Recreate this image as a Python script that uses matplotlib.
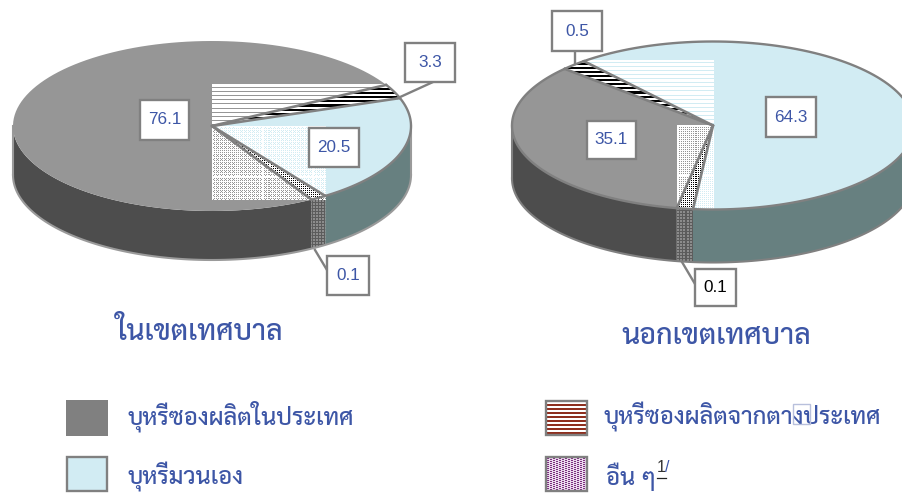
import numpy as np
import matplotlib
matplotlib.use("Agg")
import matplotlib.pyplot as plt
from matplotlib.patches import Polygon, Rectangle

# --- Data ---
left_labels = ["76.1", "3.3", "20.5", "0.1"]
left_shares = [75.3, 2.7, 20.7, 1.3]       # share of the rim as drawn, small slices are widened
right_labels = ["64.3", "35.1", "0.5", "0.1"]
right_shares = [62.7, 1.3, 33.9, 2.1]

left_title = "ในเขตเทศบาล"
right_title = "นอกเขตเทศบาล"
legend_text = ["บุหรีซองผลิตในประเทศ", "บุหรีมวนเอง", "บุหรีซองผลิตจากตางประเทศ", "อืน ๆ"]

THAI = ["Sarabun", "Noto Sans Thai", "DejaVu Sans"]
LATIN = ["Liberation Sans", "DejaVu Sans"]
BLUE_TEXT = "#3d56a6"
EDGE = "#808080"
TOP = {"gray": "#969696", "blue": "#d2ecf3"}
SIDE = {"gray": "#4d4d4d", "blue": "#678080", "stripe": "#4d4d4d", "dots": "#7a7a7a"}

fig = plt.figure(figsize=(9.03, 4.93), dpi=100)
ax = fig.add_axes([0, 0, 1, 1])
ax.set_axis_off()


def texture(x0, x1, y0, y1, kind, color="#000000", under="#ffffff", clip=None, z=3):
    """Bitmap fill of the old office chart, one texel per pixel."""
    w, h = int(round(x1 - x0)), int(round(y1 - y0))
    yy, xx = np.mgrid[0:h, 0:w]
    xx = xx + int(x0)
    yy = yy + int(y0)
    if kind == "lines":
        mask = yy % 4 < 2
    elif kind == "thin":
        mask = yy % 4 != 3
    elif kind == "dots":
        mask = (xx % 2 == 0) & (yy % 2 == 0)
    elif kind == "weave":
        mask = (xx % 3 != 0) & ((yy + xx // 3) % 2 == 0)
    else:
        mask = (xx % 3 == 0) | (yy % 3 == 0)
    img = np.zeros((h, w, 4))
    img[mask] = matplotlib.colors.to_rgba(color)
    img[~mask] = matplotlib.colors.to_rgba(under)
    im = ax.imshow(img, extent=(x0, x1, y1, y0), interpolation="nearest", aspect="auto", zorder=z)
    if clip is not None:
        im.set_clip_path(clip)
    return im


def rim(cx, cy, a, b, t0, t1, n=120):
    t = np.radians(np.linspace(t0, t1, n))
    return np.column_stack([cx + a * np.cos(t), cy - b * np.sin(t)])


def draw_pie(cx, cy, a, b, depth, shares, kinds, start, gray_rim, wall_edge, stripe_over, dense):
    # slices run clockwise from start
    ends = start - np.cumsum(shares) * 3.6
    begins = np.r_[start, ends[:-1]]
    polys = {}
    for t0, t1, kind in zip(begins, ends, kinds):
        arc = rim(cx, cy, a, b, t0, t1)
        polys[kind] = (np.vstack([[cx, cy], arc]), t0, t1)

    # side wall, only the part facing the viewer
    for kind, (_, t0, t1) in polys.items():
        for shift in (0, -360):
            lo, hi = max(t1 + shift, -180), min(t0 + shift, 0)
            if hi <= lo:
                continue
            top = rim(cx, cy, a, b, hi, lo)
            low = top[::-1] + [0, depth]
            wall = Polygon(np.vstack([top, low]), closed=True, fc=SIDE[kind], ec="none", zorder=2)
            ax.add_patch(wall)
            if kind == "dots":
                texture(top[:, 0].min() - 1, top[:, 0].max() + 1, top[:, 1].min(), low[:, 1].max(),
                        "grid", "#5c5c5c", "#8c8c8c", clip=wall, z=2.1)

    # lower edge of the wall
    low = rim(cx, cy + depth, a, b, 180, 360)
    ax.plot(low[:, 0], low[:, 1], color=wall_edge, lw=1.5, zorder=2.2)
    for sx in (-1, 1):
        ax.plot([cx + sx * a] * 2, [cy, cy + depth], color=wall_edge, lw=1.5, zorder=2.2)

    # top face
    for kind in ("gray", "blue"):
        ax.add_patch(Polygon(polys[kind][0], closed=True, fc=TOP[kind], ec="none", zorder=3))

    # bounding box of the narrow slices shows through in their neighbours
    pts = polys["stripe"][0]
    clip = Polygon(polys[stripe_over][0], closed=True, transform=ax.transData)
    texture(pts[:, 0].min(), pts[:, 0].max(), pts[:, 1].min(), pts[:, 1].max(), "thin",
            "#ffffff", (1, 1, 1, 0), clip=clip, z=3.1)

    pts = polys["dots"][0]
    x0, x1, y0, y1 = pts[:, 0].min(), pts[:, 0].max(), pts[:, 1].min(), pts[:, 1].max()
    w, h = int(round(x1 - x0)), int(round(y1 - y0))
    yy, xx = np.mgrid[0:h, 0:w]
    img = np.ones((h, w, 4))
    holes = (xx % 2 == 0) & (yy % 2 == 0)
    if dense:
        holes = holes | ((xx % 4 == 1) & (yy % 4 == 1))
    img[holes, 3] = 0
    img[(xx % 25 == 0) | (yy % 25 == 0), 3] = 1
    ax.imshow(img, extent=(x0, x1, y1, y0), interpolation="nearest", aspect="auto", zorder=3.2)

    # the narrow slices themselves
    for kind, style in (("stripe", "lines"), ("dots", "dots")):
        pts = polys[kind][0]
        wedge = Polygon(pts, closed=True, transform=ax.transData)
        texture(pts[:, 0].min(), pts[:, 0].max() + 1, pts[:, 1].min(), pts[:, 1].max() + 1,
                style, "#000000", "#ffffff", clip=wedge, z=3.3)

    # separators and rim
    for t in begins:
        p = rim(cx, cy, a, b, t, t, 1)[0]
        ax.plot([cx, p[0]], [cy, p[1]], color=EDGE, lw=1.9, zorder=3.5, solid_capstyle="round")
    for kind, (_, t0, t1) in polys.items():
        if kind == "gray" and not gray_rim:
            continue
        arc = rim(cx, cy, a, b, t0, t1)
        ax.plot(arc[:, 0], arc[:, 1], color=EDGE, lw=1.7, zorder=3.5)


def value_box(x0, y0, x1, y1, text, color=BLUE_TEXT):
    ax.add_patch(Rectangle((x0, y0), x1 - x0, y1 - y0, fc="white", ec=EDGE, lw=1.7, zorder=6))
    ax.text((x0 + x1) / 2, (y0 + y1) / 2, text, family=LATIN, fontsize=12.3, color=color,
            ha="center", va="center", zorder=7)


# --- Pies ---
draw_pie(212, 126, 199, 85, 49, left_shares, ["gray", "stripe", "blue", "dots"], 29 + 271,
         False, "#9a9a9a", "gray", True)
draw_pie(713, 125.5, 201, 84, 53, right_shares, ["blue", "dots", "gray", "stripe"], 130,
         True, EDGE, "blue", False)

# --- Leaders and value boxes ---
for xs, ys in [((398, 433), (98, 82)), ((315, 327), (250, 270)),
               ((575, 575), (64, 51)), ((682, 695), (262, 284))]:
    ax.plot(xs, ys, color=EDGE, lw=1.7, zorder=5)

value_box(140, 100, 189, 140, left_labels[0])
value_box(405, 43, 455, 82, left_labels[1])
value_box(309, 128, 359, 167, left_labels[2])
value_box(327, 256, 369, 295, left_labels[3])
value_box(766, 97, 816, 137, right_labels[0])
value_box(587, 121, 636, 159, right_labels[1])
value_box(552, 11, 602, 51, right_labels[2])
value_box(695, 269, 736, 306, right_labels[3], "black")

# --- Titles ---
ax.text(200, 333, left_title, family=THAI, fontsize=20.5, fontweight="medium", color=BLUE_TEXT,
        ha="center", va="center")
ax.text(716, 336, right_title, family=THAI, fontsize=20.5, fontweight="medium", color=BLUE_TEXT,
        ha="center", va="center")

# --- Legend ---
ax.add_patch(Rectangle((66, 400), 42, 36, fc="#808080", ec="none"))
ax.add_patch(Rectangle((67, 457), 40, 34, fc="#d2ecf3", ec=EDGE, lw=1.7))
texture(546, 587, 401, 435, "lines", "#8e2f1f", "#ffffff", z=2)
ax.add_patch(Rectangle((546, 401), 41, 34, fc="none", ec=EDGE, lw=1.7, zorder=3))
texture(546, 587, 457, 491, "weave", "#7b2d7f", "#ead9ec", z=2)
ax.add_patch(Rectangle((546, 457), 41, 34, fc="none", ec=EDGE, lw=1.7, zorder=3))

for x, y, s in zip([128, 128, 604, 606], [416, 477, 417, 477], legend_text):
    ax.text(x, y, s, family=THAI, fontsize=17, fontweight="medium", color=BLUE_TEXT, ha="left", va="center")

ax.add_patch(Rectangle((793, 404), 17, 20, fc="none", ec="#b8c0dc", lw=1, zorder=4))
ax.text(657, 468, "1", family=LATIN, fontsize=11.5, color="#333333", ha="left", va="center")
ax.text(665, 468, "/", family=LATIN, fontsize=11.5, color=BLUE_TEXT, ha="left", va="center")
ax.plot([657, 666], [478, 478], color="#222222", lw=0.9)

ax.set_xlim(0, 903)
ax.set_ylim(493, 0)
fig.savefig("out.png", dpi=100)
